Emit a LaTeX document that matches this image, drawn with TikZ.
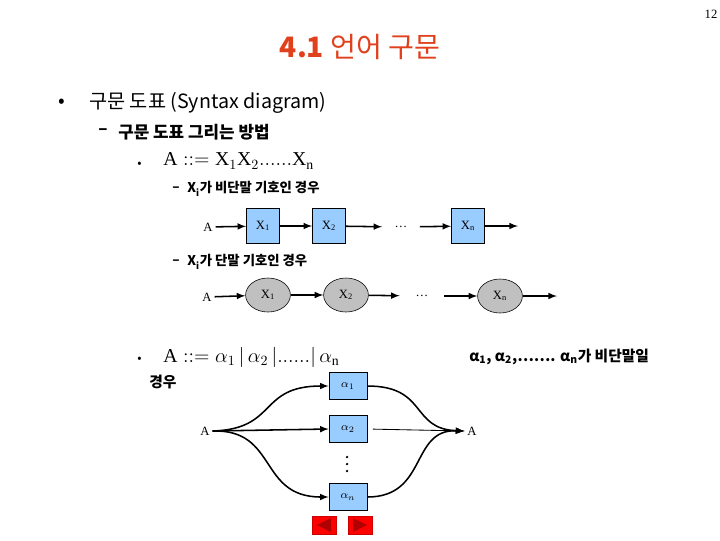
\documentclass[tikz,border=0pt]{standalone}
\usepackage{fontspec}
\usepackage{amsmath}
\usetikzlibrary{shapes.geometric}
\setmainfont{Liberation Serif}
\newfontfamily\kr{Noto Sans CJK KR}
\definecolor{titlered}{HTML}{E0401C}
\definecolor{boxblue}{HTML}{99CCFF}
\definecolor{ovalgray}{HTML}{C0C0C0}
\definecolor{navred}{HTML}{FF0000}
\definecolor{navdark}{HTML}{B00000}

\begin{document}
\begin{tikzpicture}[x=0.025cm,y=-0.025cm]
        % Styles
        \tikzset{
            ntbox/.style={rectangle, draw, fill=boxblue, minimum width=0.83cm,
                         minimum height=0.88cm, inner sep=0pt, font=\small},
            toval/.style={ellipse, draw, fill=ovalgray, minimum width=1.12cm,
                         minimum height=0.85cm, inner sep=0pt, font=\small},
            altbox/.style={rectangle, draw, fill=boxblue, minimum width=0.95cm,
                         minimum height=0.68cm, inner sep=0pt, font=\footnotesize},
            lbl/.style={font=\small, inner sep=2pt},
            gap/.style={inner sep=0pt, font=\small, minimum height=0.5cm},
            line/.style={anchor=west, inner sep=0pt},
            arrow/.style={->, line width=1.1pt, >=latex},
            thinarrow/.style={->, line width=0.6pt, >=latex},
            navbtn/.style={rectangle, fill=navred, draw=navred!80!black,
                         minimum width=0.6cm, minimum height=0.45cm, inner sep=0pt}
        }
        \useasboundingbox (0,0) rectangle (720,540);

        % En-tete
        \node[font=\small] (pagenum) at (711,14) {12};
        \node[font=\kr\fontsize{20}{24}\selectfont, text=titlered] (title) at (360,47) {\textbf{4.1} 언어 구문};

        % Texte
        \node[line, font=\kr\fontsize{14}{16}\selectfont] (bul1) at (58,103) {•};
        \node[line, font=\kr\fontsize{14}{16}\selectfont] (item1) at (89,103) {구문 도표 (Syntax diagram)};
        \node[line, font=\kr\bfseries\fontsize{12}{14}\selectfont] (dash1) at (98,132) {–};
        \node[line, font=\kr\bfseries\fontsize{12}{14}\selectfont] (item2) at (118,132) {구문 도표 그리는 방법};
        \node[line, font=\kr\fontsize{9}{10}\selectfont] (bul2) at (137,165) {•};
        \node[line, font=\fontsize{14}{16}\selectfont] (rule1) at (163,161) {$\mathrm{A} \mathrel{::=} \mathrm{X}_1\mathrm{X}_2......\mathrm{X}_{\mathrm{n}}$};
        \node[line, font=\kr\bfseries\fontsize{9.5}{11}\selectfont] (dash2) at (172,189) {–};
        \node[line, font=\kr\bfseries\fontsize{9.5}{11}\selectfont] (case1) at (187,189) {X\textsubscript{i}가 비단말 기호인 경우};
        \node[line, font=\kr\bfseries\fontsize{9.5}{11}\selectfont] (dash3) at (172,262) {–};
        \node[line, font=\kr\bfseries\fontsize{9.5}{11}\selectfont] (case2) at (187,262) {X\textsubscript{i}가 단말 기호인 경우};

        % Ligne 1 : non-terminaux
        \node[lbl] (startA) at (208,227) {A};
        \node[ntbox] (x1) at (263,226) {X\textsubscript{1}};
        \node[ntbox] (x2) at (329,226) {X\textsubscript{2}};
        \node[gap, minimum width=0.93cm] (dots1) at (401,227) {\dots};
        \node[ntbox] (xn) at (468,226) {X\textsubscript{n}};
        \coordinate (end1) at (518,226);
        \draw[arrow] (startA) -- (x1);
        \draw[arrow] (x1) -- (x2);
        \draw[arrow] (x2) -- (dots1);
        \draw[arrow] (dots1) -- (xn);
        \draw[arrow] (xn) -- (end1);

        % Ligne 2 : terminaux
        \node[lbl] (startB) at (207,297) {A};
        \node[toval] (y1) at (268,295) {X\textsubscript{1}};
        \node[toval] (y2) at (346,295) {X\textsubscript{2}};
        \node[gap, minimum width=1.1cm] (dots2) at (422,296) {\dots};
        \node[toval] (yn) at (500,296) {X\textsubscript{n}};
        \coordinate (end2) at (557,296);
        \draw[arrow] (startB) -- (y1);
        \draw[arrow] (y1) -- (y2);
        \draw[arrow] (y2) -- (dots2);
        \draw[arrow] (dots2) -- (yn);
        \draw[arrow] (yn) -- (end2);

        % Alternatives
        \node[line, font=\kr\fontsize{9}{10}\selectfont] (bul3) at (137,360) {•};
        \node[line, font=\fontsize{14}{16}\selectfont] (rule2) at (163,357) {$\mathrm{A} \mathrel{::=} \alpha_1 \,|\, \alpha_2 \,|......|\, \alpha_{\mathrm{n}}$};
        \node[line, font=\kr\bfseries\fontsize{10.5}{12}\selectfont] (note1) at (469,357) {α\textsubscript{1}, α\textsubscript{2},……. α\textsubscript{n}가 비단말일};
        \node[line, font=\kr\bfseries\fontsize{10.5}{12}\selectfont] (note2) at (149,382) {경우};

        \node[lbl] (leftA) at (205,431) {A};
        \node[altbox] (al1) at (348,386) {$\alpha_1$};
        \node[altbox] (al2) at (348,429) {$\alpha_2$};
        \node[inner sep=0pt, minimum height=0.45cm] (vdots) at (347,464) {};
        \node[altbox] (aln) at (348,497) {$\alpha_{n}$};
        \node[lbl] (rightA) at (472,431) {A};
        \foreach \dy in {-7,0,7}
            \fill (vdots.center) ++(0,\dy) circle (0.9pt);
        \draw[arrow] (leftA.east) .. controls (278,429) and (258,386) .. (al1.west);
        \draw[arrow] (leftA.east) -- (al2.west);
        \draw[arrow] (leftA.east) .. controls (278,429) and (258,497) .. (aln.west);
        \draw[arrow] (al1.east) .. controls (428,386) and (410,429) .. (rightA.west);
        \draw[thinarrow, shorten <=4pt] (al2.east) -- (rightA.west);
        \draw[arrow] (aln.east) .. controls (428,497) and (410,429) .. (rightA.west);

        % Boutons
        \node[navbtn] (prevbtn) at (324,525) {};
        \node[navbtn] (nextbtn) at (360,525) {};
        \fill[navdark] (prevbtn.center) ++(-7,0) -- ++(14,-7) -- ++(0,14) -- cycle;
        \fill[navdark] (nextbtn.center) ++(7,0) -- ++(-14,-7) -- ++(0,14) -- cycle;
\end{tikzpicture}
\end{document}
